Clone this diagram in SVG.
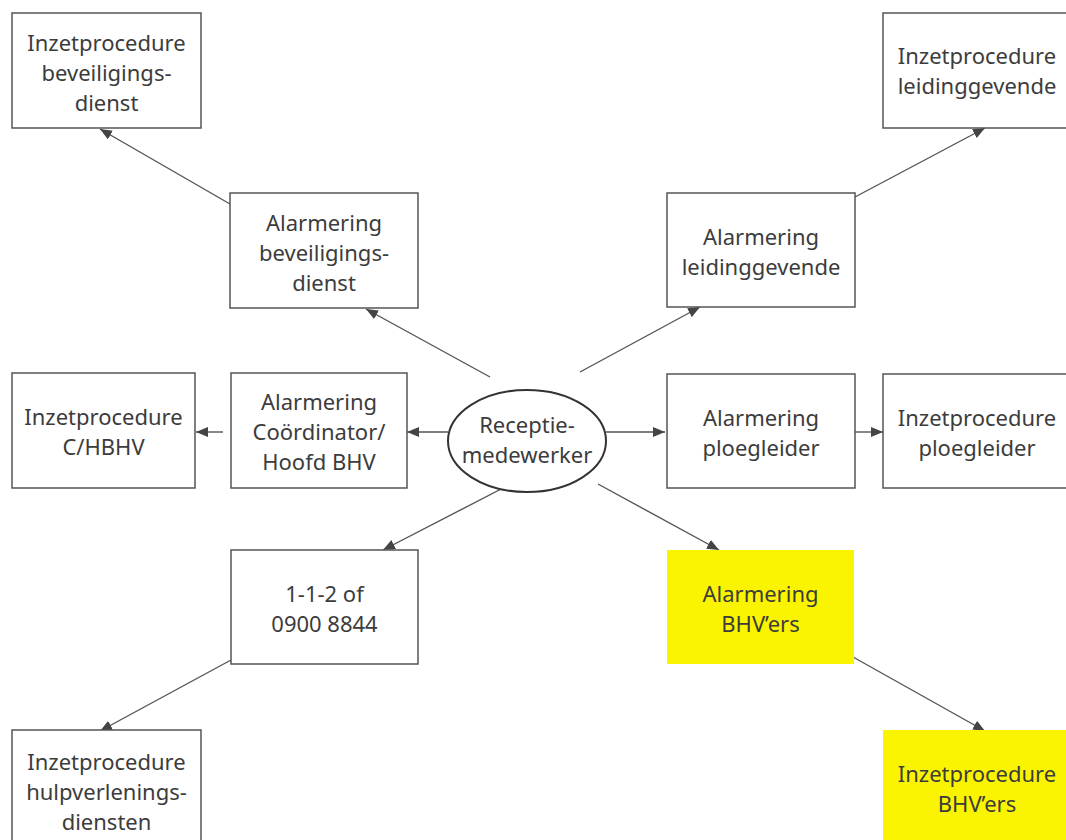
<svg xmlns="http://www.w3.org/2000/svg" width="1066" height="840" viewBox="0 0 1066 840">
<style>
.box{fill:#ffffff;stroke:#555555;stroke-width:1.5}
.hl{fill:#fbf400;stroke:none}
.t{font-family:"Noto Sans","Open Sans",sans-serif;font-size:22px;fill:#3c3c3c;text-anchor:middle}
.c{stroke:#555555;stroke-width:1.4;fill:none;marker-end:url(#ah)}
</style>
<defs>
<marker id="ah" viewBox="0 0 12 10" refX="12" refY="5" markerWidth="12" markerHeight="10" markerUnits="userSpaceOnUse" orient="auto">
<path d="M0,0 L12,5 L0,10 Z" fill="#444444"/>
</marker>
</defs>
<rect width="1066" height="840" fill="#ffffff"/>
<g id="connectors">
<line class="c" x1="490" y1="377" x2="366" y2="309"/>
<line class="c" x1="230" y1="204" x2="100" y2="129"/>
<line class="c" x1="580" y1="372" x2="700" y2="307"/>
<line class="c" x1="855" y1="197" x2="985" y2="128"/>
<line class="c" x1="448" y1="432" x2="407" y2="432"/>
<line class="c" x1="223" y1="432" x2="196" y2="432"/>
<line class="c" x1="606" y1="432" x2="665" y2="432"/>
<line class="c" x1="855" y1="432" x2="883" y2="432"/>
<line class="c" x1="505" y1="487" x2="383" y2="550"/>
<line class="c" x1="231" y1="660" x2="100" y2="731"/>
<line class="c" x1="598" y1="484" x2="719" y2="550"/>
<line class="c" x1="853" y1="657" x2="985" y2="731"/>
</g>
<g id="n-inzet-beveiliging">
<rect class="box" x="12" y="13" width="189" height="115"/>
<text class="t" x="106.5" y="51">Inzetprocedure</text>
<text class="t" x="106.5" y="81">beveiligings-</text>
<text class="t" x="106.5" y="111">dienst</text>
</g>
<g id="n-alarm-beveiliging">
<rect class="box" x="230" y="193" width="188" height="115"/>
<text class="t" x="324" y="231">Alarmering</text>
<text class="t" x="324" y="261">beveiligings-</text>
<text class="t" x="324" y="291">dienst</text>
</g>
<g id="n-inzet-leiding">
<rect class="box" x="883" y="13" width="190" height="115"/>
<text class="t" x="977" y="64">Inzetprocedure</text>
<text class="t" x="977" y="94">leidinggevende</text>
</g>
<g id="n-alarm-leiding">
<rect class="box" x="667" y="193" width="188" height="114"/>
<text class="t" x="761" y="245">Alarmering</text>
<text class="t" x="761" y="275">leidinggevende</text>
</g>
<g id="n-inzet-chbhv">
<rect class="box" x="12" y="373" width="183" height="115"/>
<text class="t" x="103.5" y="425">Inzetprocedure</text>
<text class="t" x="103.5" y="455">C/HBHV</text>
</g>
<g id="n-alarm-coord">
<rect class="box" x="231" y="373" width="176" height="115"/>
<text class="t" x="319" y="410">Alarmering</text>
<text class="t" x="319" y="440">Coördinator/</text>
<text class="t" x="319" y="470">Hoofd BHV</text>
</g>
<g id="n-receptie">
<ellipse cx="527" cy="441" rx="79" ry="51" fill="#ffffff" stroke="#333333" stroke-width="2"/>
<text class="t" x="527" y="433">Receptie-</text>
<text class="t" x="527" y="463">medewerker</text>
</g>
<g id="n-alarm-ploeg">
<rect class="box" x="667" y="374" width="188" height="114"/>
<text class="t" x="761" y="426">Alarmering</text>
<text class="t" x="761" y="456">ploegleider</text>
</g>
<g id="n-inzet-ploeg">
<rect class="box" x="883" y="374" width="190" height="114"/>
<text class="t" x="977" y="426">Inzetprocedure</text>
<text class="t" x="977" y="456">ploegleider</text>
</g>
<g id="n-112">
<rect class="box" x="231" y="550" width="187" height="114"/>
<text class="t" x="324.5" y="602">1-1-2 of</text>
<text class="t" x="324.5" y="632">0900 8844</text>
</g>
<g id="n-inzet-hulp">
<rect class="box" x="12" y="730" width="189" height="120"/>
<text class="t" x="106.5" y="770">Inzetprocedure</text>
<text class="t" x="106.5" y="800">hulpverlenings-</text>
<text class="t" x="106.5" y="830">diensten</text>
</g>
<g id="n-alarm-bhv">
<rect class="hl" x="667" y="550" width="187" height="114"/>
<text class="t" x="760.5" y="602">Alarmering</text>
<text class="t" x="760.5" y="632">BHV’ers</text>
</g>
<g id="n-inzet-bhv">
<rect class="hl" x="883" y="730" width="190" height="120"/>
<text class="t" x="977" y="782">Inzetprocedure</text>
<text class="t" x="977" y="812">BHV’ers</text>
</g>
</svg>
